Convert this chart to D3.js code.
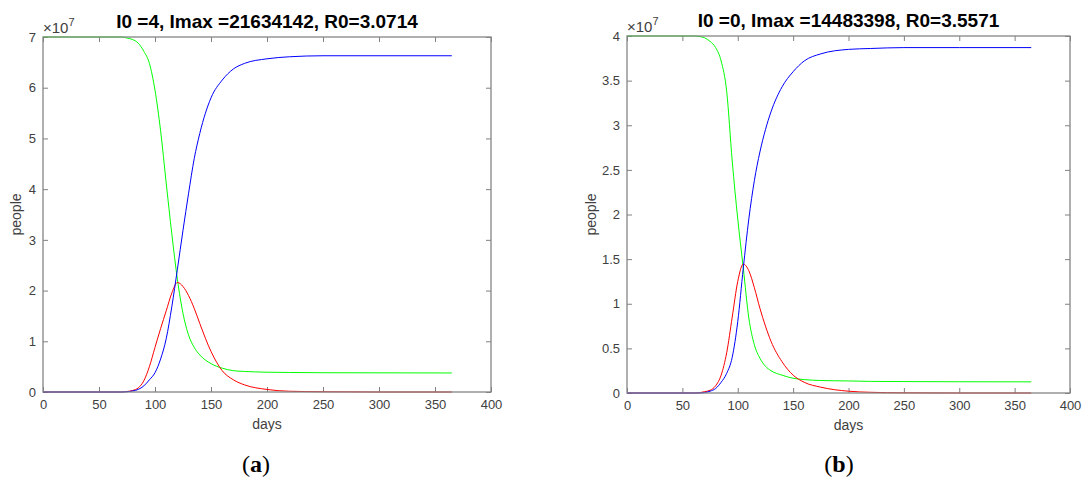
<!DOCTYPE html>
<html>
<head>
<meta charset="utf-8">
<script src="https://cdn.jsdelivr.net/npm/d3@7"></script>
<style>
  body { margin: 0; background: #fff; }
  svg { display: block; }
  .tick text { font-family: Arial, "Liberation Sans", sans-serif; font-size: 13px; fill: #404040; }
</style>
</head>
<body>
<div id="chart"></div>
<script>
// size of the whole figure
var width = 1088
var height = 477

// Panel (a): days and values in units of 1e7 people
var daysA = [0, 70, 75, 80, 85, 90, 95, 100, 105, 110, 115, 120, 125, 130, 135, 140, 150, 160, 170, 180, 200, 220, 250, 300, 365]
var susA  = [7.0, 7.0, 6.98, 6.95, 6.88, 6.72, 6.48, 5.95, 5.15, 4.12, 3.12, 2.22, 1.55, 1.12, 0.88, 0.73, 0.56, 0.47, 0.42, 0.405, 0.39, 0.385, 0.38, 0.378, 0.375]
var infA  = [0, 0, 0.01, 0.03, 0.08, 0.22, 0.5, 0.88, 1.25, 1.6, 1.95, 2.16, 2.08, 1.9, 1.65, 1.35, 0.8, 0.42, 0.24, 0.14, 0.05, 0.015, 0.005, 0, 0]
var recA  = [0, 0, 0.005, 0.02, 0.05, 0.12, 0.24, 0.38, 0.65, 1.05, 1.68, 2.42, 3.19, 3.92, 4.6, 5.1, 5.8, 6.15, 6.37, 6.48, 6.57, 6.61, 6.63, 6.63, 6.63]

// Panel (b)
var daysB = [0, 60, 65, 70, 75, 80, 85, 90, 95, 100, 105, 110, 115, 120, 125, 130, 140, 150, 160, 175, 200, 220, 250, 300, 365]
var susB  = [4.0, 4.0, 3.995, 3.98, 3.94, 3.87, 3.72, 3.38, 2.6, 1.95, 1.4, 0.84, 0.54, 0.39, 0.3, 0.25, 0.2, 0.165, 0.15, 0.14, 0.135, 0.13, 0.128, 0.126, 0.125]
var infB  = [0, 0, 0.003, 0.015, 0.03, 0.08, 0.2, 0.45, 0.85, 1.25, 1.445, 1.37, 1.18, 0.95, 0.75, 0.58, 0.35, 0.2, 0.12, 0.065, 0.02, 0.008, 0.002, 0, 0]
var recB  = [0, 0, 0, 0.005, 0.02, 0.05, 0.12, 0.22, 0.4, 0.8, 1.4, 1.95, 2.38, 2.7, 2.95, 3.15, 3.43, 3.6, 3.72, 3.8, 3.85, 3.86, 3.87, 3.87, 3.87]

// axis ticks
var xTicks = [0, 50, 100, 150, 200, 250, 300, 350, 400]
var yTicksA = [0, 1, 2, 3, 4, 5, 6, 7]
var yTicksB = [0, 0.5, 1, 1.5, 2, 2.5, 3, 3.5, 4]

var titleA = "I0 =4, Imax =21634142, R0=3.0714"
var titleB = "I0 =0, Imax =14483398, R0=3.5571"

var svg = d3.select("#chart")
  .append("svg")
    .attr("width", width)
    .attr("height", height)

var fmt = function(d){ return String(d) }

function drawPanel(p) {
  var w = p.x1 - p.x0
  var h = p.y1 - p.y0
  var g = svg.append("g").attr("transform", "translate(" + p.x0 + "," + p.y0 + ")")

  var x = d3.scaleLinear().domain([0, 400]).range([0, w])
  var y = d3.scaleLinear().domain([0, p.ymax]).range([h, 0])

  // axes, ticks pointing inward (matlab style)
  g.append("g").attr("transform", "translate(0," + h + ")")
    .call(d3.axisBottom(x).tickValues(xTicks).tickFormat(fmt).tickSize(-5).tickSizeOuter(0).tickPadding(8))
  g.append("g")
    .call(d3.axisTop(x).tickValues(xTicks).tickSize(-5).tickSizeOuter(0).tickFormat(""))
  g.append("g")
    .call(d3.axisLeft(y).tickValues(p.yTicks).tickFormat(fmt).tickSize(-5).tickSizeOuter(0).tickPadding(7))
  g.append("g").attr("transform", "translate(" + w + ",0)")
    .call(d3.axisRight(y).tickValues(p.yTicks).tickSize(-5).tickSizeOuter(0).tickFormat(""))
  g.selectAll(".domain").remove()
  g.selectAll(".tick line").attr("stroke", "#808080")

  // lines
  var line = d3.line()
    .x(function(d){ return x(d[0]) })
    .y(function(d){ return y(d[1]) })
    .curve(d3.curveMonotoneX)
  var series = [[p.sus, "#00ff00"], [p.inf, "#ff0000"], [p.rec, "#0000ff"]]
  series.forEach(function(s) {
    g.append("path")
      .datum(p.days.map(function(d, i){ return [d, s[0][i]] }))
      .attr("fill", "none")
      .attr("stroke", s[1])
      .attr("stroke-width", 1)
      .attr("d", line)
  })

  // box
  g.append("rect")
    .attr("width", w).attr("height", h)
    .attr("fill", "none")
    .attr("stroke", "#858585")
    .attr("stroke-width", 1.3)

  // exponent label
  var ex = g.append("text")
    .attr("x", 0).attr("y", -4)
    .style("font-family", "Arial, 'Liberation Sans', sans-serif")
    .style("font-size", "15px")
    .attr("fill", "#404040")
  ex.append("tspan").text("\u00d710")
  ex.append("tspan").attr("dy", -7).style("font-size", "11px").text("7")

  // title
  g.append("text")
    .attr("x", w / 2).attr("y", -9)
    .attr("text-anchor", "middle")
    .style("font-family", "Arial, 'Liberation Sans', sans-serif")
    .style("font-size", "19px")
    .style("font-weight", "bold")
    .text(p.title)

  // axis labels
  g.append("text")
    .attr("x", w / 2).attr("y", h + 37)
    .attr("text-anchor", "middle")
    .style("font-family", "Arial, 'Liberation Sans', sans-serif")
    .style("font-size", "14px")
    .attr("fill", "#404040")
    .text("days")
  g.append("text")
    .attr("transform", "translate(" + (p.ylabX - p.x0) + "," + (h / 2) + ") rotate(-90)")
    .attr("text-anchor", "middle")
    .style("font-family", "Arial, 'Liberation Sans', sans-serif")
    .style("font-size", "14px")
    .attr("fill", "#404040")
    .text("people")

  // panel letter
  var lab = svg.append("text")
    .attr("x", p.labX).attr("y", 472)
    .attr("text-anchor", "middle")
    .style("font-family", "'Liberation Serif', 'DejaVu Serif', serif")
    .style("font-size", "24px")
  lab.append("tspan").text("(")
  lab.append("tspan").style("font-weight", "bold").text(p.letter)
  lab.append("tspan").text(")")
}

drawPanel({x0: 43, x1: 491, y0: 37, y1: 392, ymax: 7, yTicks: yTicksA,
  days: daysA, sus: susA, inf: infA, rec: recA, title: titleA, ylabX: 21, labX: 256, letter: "a"})
drawPanel({x0: 627, x1: 1070, y0: 36, y1: 393, ymax: 4, yTicks: yTicksB,
  days: daysB, sus: susB, inf: infB, rec: recB, title: titleB, ylabX: 596, labX: 839, letter: "b"})
</script>
</body>
</html>
